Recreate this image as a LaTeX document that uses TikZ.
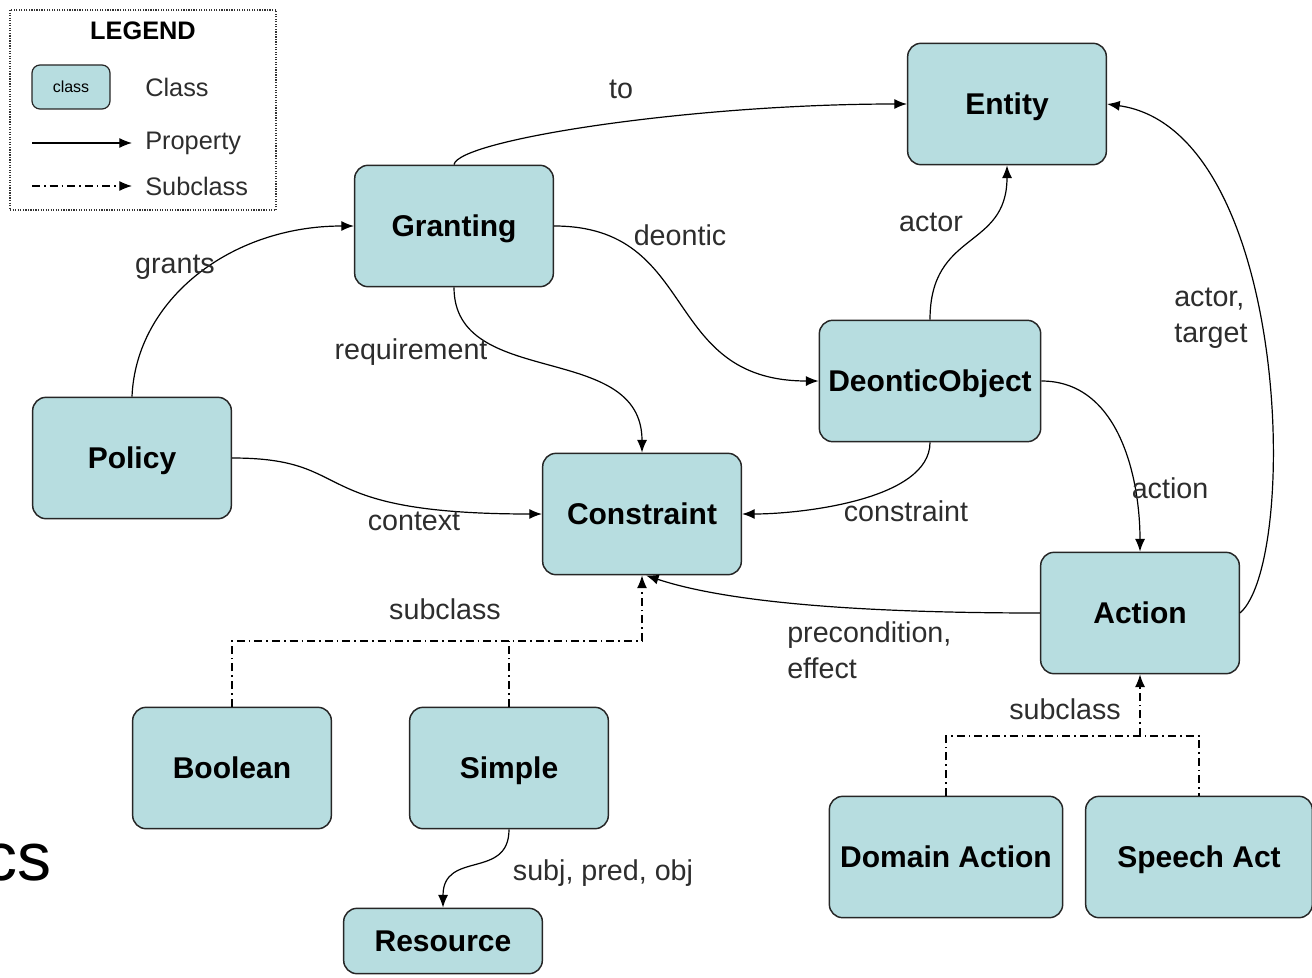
\documentclass[tikz,border=0pt]{standalone}
\usepackage{fontspec}
\setmainfont{Liberation Sans}
\usetikzlibrary{arrows.meta}
\definecolor{clsfill}{RGB}{183,221,224}
\definecolor{lbl}{RGB}{45,45,45}
\begin{document}
\begin{tikzpicture}[x=0.75pt,y=-0.75pt,
  cls/.style={draw=black!85, fill=clsfill, rounded corners=10pt, line width=1.1pt, inner sep=0pt,
    minimum width=149pt, minimum height=91pt, text height=16.1pt, text depth=0pt,
    font=\fontsize{22.5}{27}\selectfont\bfseries},
  tip/.style={-{Latex[length=9.5pt,width=7.5pt]}},
  prop/.style={line width=0.9pt, tip},
  sub/.style={line width=0.9pt, dash pattern=on 6pt off 3pt on 1.2pt off 3pt},
  lab/.style={text=lbl, font=\fontsize{21.5}{27}\selectfont, inner sep=0pt},
  leg/.style={text=lbl, font=\fontsize{19}{23}\selectfont, inner sep=0pt, anchor=west}
]
\useasboundingbox (0,0) rectangle (1312,977);
\clip (0,0) rectangle (1312,977);

% legend
\draw[black!80, densely dotted, line width=0.9pt] (10,10) rectangle (276,210);
\node[font=\fontsize{19}{23}\selectfont\bfseries, inner sep=0pt] (legtitle) at (143,31) {LEGEND};
\node[cls, minimum width=58.5pt, minimum height=33pt, rounded corners=6pt, line width=0.9pt,
  text height=, text depth=, font=\fontsize{12}{14}\selectfont] (lclass) at (71,87) {class};
\node[leg] (lclasstxt) at (145,87) {Class};
\coordinate (lp1) at (32,143); \coordinate (lp2) at (132,143);
\draw[prop] (lp1) -- (lp2);
\node[leg] (lproptxt) at (145,143) {Property};
\coordinate (ls1) at (32,186); \coordinate (ls2) at (132,186);
\draw[sub, tip] (ls1) -- (ls2);
\node[leg] (lsubtxt) at (145,186) {Subclass};

% stray text at left
\node[font=\fontsize{51}{60}\selectfont, inner sep=0pt, anchor=base east] (cs) at (52,880) {cs};

% classes
\node[cls] (entity) at (1007,104) {Entity};
\node[cls] (granting) at (454,226) {Granting};
\node[cls, minimum width=166pt] (deontic) at (930,381) {DeonticObject};
\node[cls] (policy) at (132,458) {Policy};
\node[cls] (constraint) at (642,514) {Constraint};
\node[cls] (action) at (1140,613) {Action};
\node[cls] (boolean) at (232,768) {Boolean};
\node[cls] (simple) at (509,768) {Simple};
\node[cls, minimum width=175pt] (domain) at (946,857) {Domain Action};
\node[cls, minimum width=170pt] (speech) at (1199,857) {Speech Act};
\node[cls, minimum height=49pt] (resource) at (443,941) {Resource};

% properties
\draw[prop] (granting.north) .. controls (458,140) and (690,104) .. (entity.west);
\draw[prop] (policy.north) .. controls (136,300) and (230,226) .. (granting.west);
\draw[prop] (granting.east) .. controls (700,226) and (660,381) .. (deontic.west);
\draw[prop] (granting.south) .. controls (454,390) and (642,340) .. (constraint.north);
\draw[prop] (policy.east) .. controls (360,458) and (300,514) .. (constraint.west);
\draw[prop] (deontic.north) .. controls (930,230) and (1007,250) .. (entity.south);
\draw[prop] (deontic.east) .. controls (1120,381) and (1140,480) .. (action.north);
\draw[prop] (deontic.south) .. controls (930,500) and (800,514) .. (constraint.east);
\draw[prop] (action.west) .. controls (840,613) and (720,600) .. ([xshift=3pt]constraint.south);
\draw[prop] (action.east) .. controls (1300,560) and (1290,130) .. (entity.east);
\draw[prop] (simple.south) .. controls (509,880) and (443,850) .. (resource.north);

% subclass links
\coordinate (sj1) at (642,641);
\draw[sub] (boolean.north) |- (sj1);
\draw[sub] (simple.north) -- (simple.north |- sj1);
\draw[sub, tip] (sj1) -- (constraint.south);
\coordinate (sj2) at (1140,736);
\draw[sub] (domain.north) |- (speech.north |- sj2) -- (speech.north);
\draw[sub, tip] (sj2) -- (action.south);

% labels
\node[lab] (l1) at (621,89) {to};
\node[lab] (l2) at (175,267) {grants};
\node[lab] (l3) at (680,235) {deontic};
\node[lab] (l4) at (411,352) {requirement};
\node[lab] (l5) at (931,222) {actor};
\node[lab, align=left, anchor=west] (l6) at (1174,318) {actor,\\target};
\node[lab] (l7) at (414,521) {context};
\node[lab] (l8) at (906,511) {constraint};
\node[lab] (l9) at (1170,488) {action};
\node[lab] (l10) at (445,609) {subclass};
\node[lab, align=left, anchor=west] (l11) at (787,650) {precondition,\\effect};
\node[lab] (l12) at (1065,709) {subclass};
\node[lab] (l13) at (603,873) {subj, pred, obj};
\end{tikzpicture}
\end{document}
